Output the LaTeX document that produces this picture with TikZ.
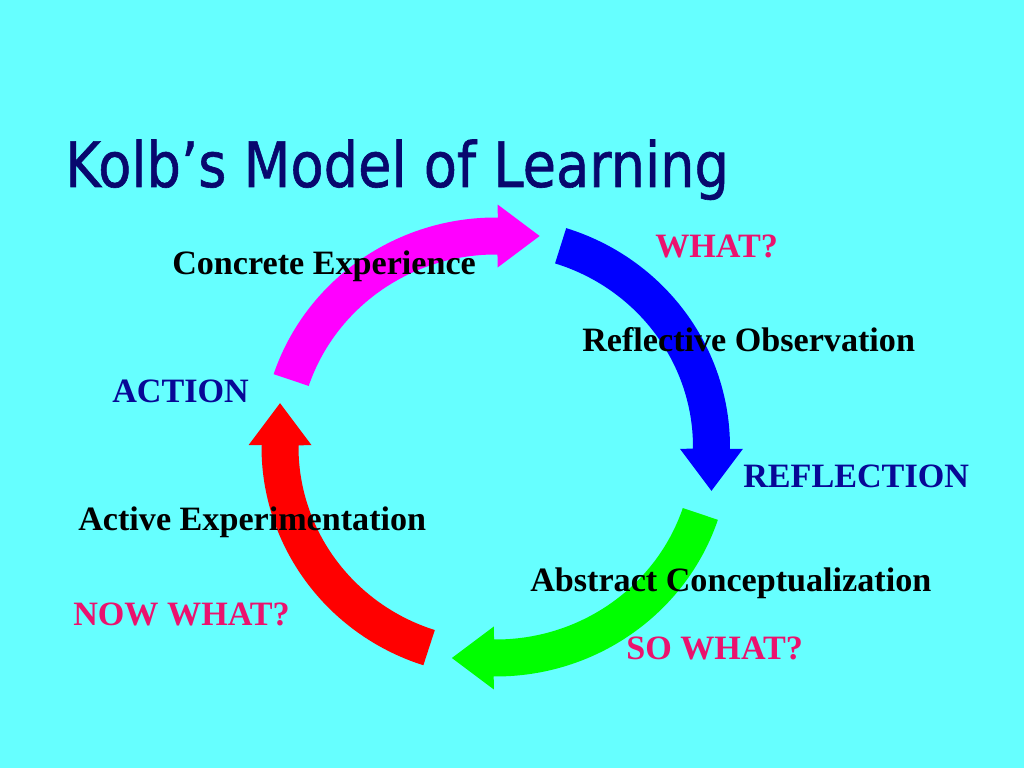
\documentclass[tikz,border=0pt]{standalone}
\usepackage{fontspec}
\setmainfont{Liberation Serif}
\newfontfamily\titlefont[FakeBold=1]{DejaVu Sans}
\definecolor{bgcyan}{RGB}{102,255,255}
\definecolor{titlenavy}{RGB}{8,8,110}
\definecolor{labelblue}{RGB}{8,8,150}
\definecolor{askpink}{RGB}{235,18,110}
\definecolor{amagenta}{RGB}{255,0,255}
\definecolor{ablue}{RGB}{0,0,255}
\definecolor{agreen}{RGB}{0,255,0}
\definecolor{ared}{RGB}{255,0,0}
\tikzset{
  lbl/.style={anchor=base west,inner sep=0pt,font=\fontsize{24}{28}\selectfont\bfseries},
  stage/.style={lbl,text=black},
  phase/.style={lbl,text=labelblue},
  ask/.style={lbl,text=askpink}
}
\def\kcx{495.75}\def\kcy{321}
\def\kra{215.75}\def\krb{211}\def\khw{18.5}\def\khh{31.5}\def\khl{42}
\newcommand\kolbarrow[4]{%
  \pgfmathsetmacro\kao{\kra+\khw}\pgfmathsetmacro\kbo{\krb+\khw}%
  \pgfmathsetmacro\kai{\kra-\khw}\pgfmathsetmacro\kbi{\krb-\khw}%
  \pgfmathsetmacro\ktox{\kcx+\kao*cos(#2)}\pgfmathsetmacro\ktoy{\kcy+\kbo*sin(#2)}%
  \pgfmathsetmacro\kbx{\kcx+\kra*cos(#3)}\pgfmathsetmacro\kby{\kcy+\krb*sin(#3)}%
  \pgfmathsetmacro\khax{\kbx+\khh*cos(#4+90)}\pgfmathsetmacro\khay{\kby+\khh*sin(#4+90)}%
  \pgfmathsetmacro\khtx{\kbx+\khl*cos(#4)}\pgfmathsetmacro\khty{\kby+\khl*sin(#4)}%
  \pgfmathsetmacro\khbx{\kbx+\khh*cos(#4-90)}\pgfmathsetmacro\khby{\kby+\khh*sin(#4-90)}%
  \pgfmathsetmacro\kbix{\kcx+\kai*cos(#3)}\pgfmathsetmacro\kbiy{\kcy+\kbi*sin(#3)}%
  \fill[#1] (\ktox,\ktoy)
    arc[start angle=#2,end angle=#3,x radius=\kao,y radius=\kbo]
    -- (\khax,\khay) -- (\khtx,\khty) -- (\khbx,\khby)
    -- (\kbix,\kbiy)
    arc[start angle=#3,end angle=#2,x radius=\kai,y radius=\kbi] -- cycle;}
\begin{document}
\begin{tikzpicture}[x=0.703125pt,y=0.703125pt]
\useasboundingbox (0,0) rectangle (1024,768);
\fill[bgcyan] (0,0) rectangle (1024,768);
% arrows
\kolbarrow{amagenta}{161.5}{89.5}{0}
\kolbarrow{ablue}{72.5}{-0.5}{-90}
\kolbarrow{agreen}{-18.5}{-90.5}{180}
\kolbarrow{ared}{-108}{-180.5}{90}
% title
\node[anchor=base west,inner sep=0pt,text=titlenavy] (title) at (65,581)
  {\scalebox{0.867}[1]{\titlefont\fontsize{44}{50}\selectfont Kolb’s Model of Learning}};
% labels
\node[stage] (ce) at (172,493) {Concrete Experience};
\node[ask] (what) at (655,510) {WHAT?};
\node[stage] (ro) at (582,416) {Reflective Observation};
\node[phase] (action) at (112,365) {ACTION};
\node[phase] (reflection) at (743,280) {REFLECTION};
\node[stage] (ae) at (78,237) {Active Experimentation};
\node[stage] (ac) at (530,176) {Abstract Conceptualization};
\node[ask] (nowwhat) at (73,142) {NOW WHAT?};
\node[ask] (sowhat) at (626,108) {SO WHAT?};
\end{tikzpicture}
\end{document}
